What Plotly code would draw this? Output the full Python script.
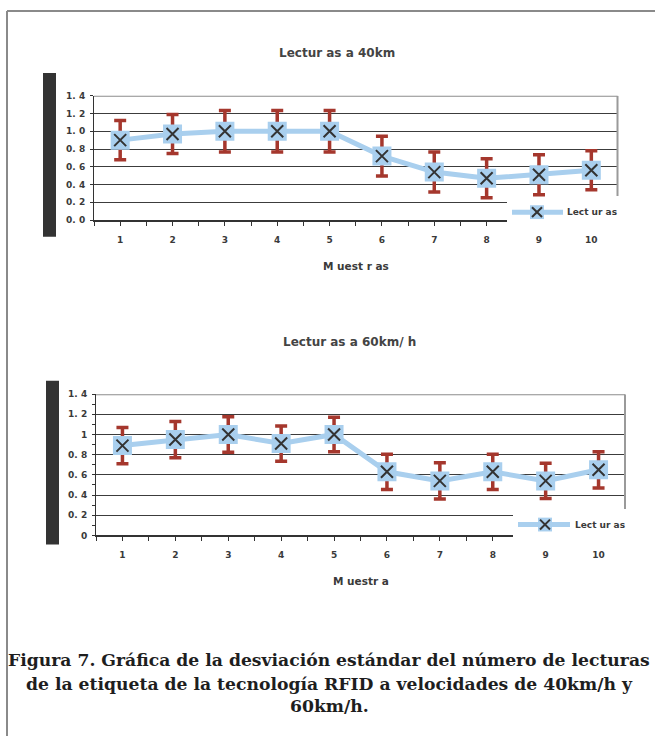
import plotly.graph_objects as go

# ---------------- data ----------------
muestras = [1, 2, 3, 4, 5, 6, 7, 8, 9, 10]

lect40_media = [0.90, 0.97, 1.00, 1.00, 1.00, 0.72, 0.54, 0.47, 0.51, 0.56]
lect40_desv = [0.22, 0.22, 0.235, 0.235, 0.235, 0.225, 0.225, 0.22, 0.225, 0.22]

lect60_media = [0.89, 0.95, 1.00, 0.91, 1.00, 0.63, 0.54, 0.63, 0.54, 0.65]
lect60_desv = [0.18, 0.18, 0.175, 0.175, 0.17, 0.175, 0.18, 0.175, 0.175, 0.18]

yticks = [0, 0.2, 0.4, 0.6, 0.8, 1.0, 1.2, 1.4]
ytext40 = ["0. 0", "0. 2", "0. 4", "0. 6", "0. 8", "1. 0", "1. 2", "1. 4"]
ytext60 = ["0", "0. 2", "0. 4", "0. 6", "0. 8", "1", "1. 2", "1. 4"]

serie_nombre = "Lect ur as"
titulo40 = "Lectur as a 40km"
titulo60 = "Lectur as a 60km/ h"
xtit40 = "M uest r as"
xtit60 = "M uestr a"
caption = [
    "Figura 7. Gráfica de la desviación estándar del número de lecturas",
    "de la etiqueta de la tecnología RFID a velocidades de 40km/h y",
    "60km/h.",
]

# ---------------- styling ----------------
W, H = 655, 736
px = lambda x: x / W
py = lambda y: 1 - y / H

LINE_BLUE = "#a9cfee"
ERR_RED = "#a5372d"
XDARK = "#333333"
GRID = "#3c3c3c"
TXT = "#3a3a3a"
SANS = "DejaVu Sans"

fig = go.Figure()


def add_series(xa, ya, media, desv, legend_name):
    fig.add_trace(go.Scatter(
        x=muestras, y=media, xaxis=xa, yaxis=ya, mode="lines+markers",
        name=legend_name, showlegend=False,
        line=dict(color=LINE_BLUE, width=5),
        marker=dict(symbol="square", size=19, color=LINE_BLUE, line=dict(width=0)),
        error_y=dict(type="data", array=desv, visible=True, color=ERR_RED,
                     thickness=3.5, width=6),
    ))
    fig.add_trace(go.Scatter(
        x=muestras, y=media, xaxis=xa, yaxis=ya, mode="markers",
        showlegend=False, hoverinfo="skip",
        marker=dict(symbol="x-thin-open", size=12, color=XDARK,
                    line=dict(color=XDARK, width=2)),
    ))


add_series("x", "y", lect40_media, lect40_desv, serie_nombre)
add_series("x2", "y2", lect60_media, lect60_desv, serie_nombre)

tickfont = dict(family=SANS, size=9, color=TXT, weight="bold")

xcommon = dict(range=[0.5, 10.5], tickmode="linear", tick0=1, dtick=1,
               ticks="outside", ticklen=4, tickcolor="#333", tickwidth=1,
               showline=True, linecolor="#333", linewidth=1.5,
               showgrid=False, zeroline=False, tickfont=tickfont,
               ticklabelstandoff=6,
               minor=dict(ticks="outside", ticklen=4, tickcolor="#333",
                          tick0=0.5, dtick=0.5, showgrid=False))

fig.update_layout(
    width=W, height=H, margin=dict(l=0, r=0, t=0, b=0),
    paper_bgcolor="white", plot_bgcolor="white", showlegend=False,
    xaxis=dict(domain=[px(94), px(617.5)], anchor="y", **xcommon),
    xaxis2=dict(domain=[px(96), px(625)], anchor="y2", **xcommon),
    yaxis=dict(domain=[py(218), py(92)], anchor="x", range=[0, 1.4],
               tickmode="array", tickvals=yticks, ticktext=ytext40,
               ticks="outside", ticklen=3, tickcolor="#333",
               showline=True, linecolor="#333", linewidth=1,
               showgrid=True, gridcolor=GRID, gridwidth=1, zeroline=False,
               tickfont=tickfont, ticklabelstandoff=3),
    yaxis2=dict(domain=[py(537.7), py(394.5)], anchor="x2", range=[0, 1.4],
                tickmode="array", tickvals=yticks, ticktext=ytext60,
                ticks="outside", ticklen=3, tickcolor="#333",
                showline=True, linecolor="#333", linewidth=1,
                showgrid=True, gridcolor=GRID, gridwidth=1, zeroline=False,
                tickfont=tickfont, ticklabelstandoff=3,
                minor=dict(ticks="outside", ticklen=3, tickcolor="#333",
                           dtick=0.1, showgrid=False)),
)

shapes = []
# page border (top + left)
shapes.append(dict(type="line", xref="paper", yref="paper", x0=px(7), x1=1.01,
                   y0=py(6), y1=py(6), line=dict(color="#8a8a8a", width=2)))
shapes.append(dict(type="line", xref="paper", yref="paper", x0=px(7), x1=px(7),
                   y0=py(6), y1=-0.01, line=dict(color="#8a8a8a", width=2)))
# dark side bars
shapes.append(dict(type="rect", xref="paper", yref="paper", x0=px(43), x1=px(56),
                   y0=py(235), y1=py(69), fillcolor="#333333", line=dict(width=0)))
shapes.append(dict(type="rect", xref="paper", yref="paper", x0=px(46), x1=px(59),
                   y0=py(547), y1=py(381), fillcolor="#333333", line=dict(width=0)))

for xa, ya, rb_bottom in [("x", "y", 0.27), ("x2", "y2", 0.25)]:
    shapes.append(dict(type="line", xref=f"{xa} domain", yref=ya, x0=0, x1=1,
                       y0=1.4, y1=1.4, line=dict(color="#8c8c8c", width=2),
                       layer="above"))
    shapes.append(dict(type="line", xref=f"{xa} domain", yref=ya, x0=1, x1=1,
                       y0=1.4, y1=rb_bottom, line=dict(color="#9a9a9a", width=2),
                       layer="above"))

# legend boxes (white) + samples
legends = [
    dict(box=(507, 620, 197, 229), ly=210, lx0=512, lx1=563, mx=537, tx=565),
    dict(box=(513, 628, 511, 548), ly=526.7, lx0=518, lx1=570, mx=545, tx=572.5),
]
for lg in legends:
    bx0, bx1, by0, by1 = lg["box"]
    shapes.append(dict(type="rect", xref="paper", yref="paper",
                       x0=px(bx0), x1=px(bx1), y0=py(by1), y1=py(by0),
                       fillcolor="white", line=dict(width=0), layer="above"))
    shapes.append(dict(type="line", xref="paper", yref="paper",
                       x0=px(lg["lx0"]), x1=px(lg["lx1"]), y0=py(lg["ly"]), y1=py(lg["ly"]),
                       line=dict(color=LINE_BLUE, width=5), layer="above"))
    s = 7
    shapes.append(dict(type="rect", xref="paper", yref="paper",
                       x0=px(lg["mx"] - s), x1=px(lg["mx"] + s),
                       y0=py(lg["ly"] + s), y1=py(lg["ly"] - s),
                       fillcolor=LINE_BLUE, line=dict(width=0), layer="above"))
    k = 5
    shapes.append(dict(type="line", xref="paper", yref="paper",
                       x0=px(lg["mx"] - k), x1=px(lg["mx"] + k),
                       y0=py(lg["ly"] - k), y1=py(lg["ly"] + k),
                       line=dict(color=XDARK, width=2), layer="above"))
    shapes.append(dict(type="line", xref="paper", yref="paper",
                       x0=px(lg["mx"] - k), x1=px(lg["mx"] + k),
                       y0=py(lg["ly"] + k), y1=py(lg["ly"] - k),
                       line=dict(color=XDARK, width=2), layer="above"))

fig.update_layout(shapes=shapes)

ann = []
bold9 = dict(family=SANS, size=9, color=TXT, weight="bold")
bold10 = dict(family=SANS, size=10.5, color=TXT, weight="bold")
bold12 = dict(family=SANS, size=12, color="#444", weight="bold")
for lg in legends:
    ann.append(dict(xref="paper", yref="paper", x=px(lg["tx"]), y=py(lg["ly"]),
                    text=serie_nombre, showarrow=False, xanchor="left", yanchor="middle",
                    font=bold9))
ann.append(dict(xref="paper", yref="paper", x=px(337), y=py(48.5), text=titulo40,
                showarrow=False, xanchor="center", yanchor="middle", font=bold12))
ann.append(dict(xref="paper", yref="paper", x=px(349), y=py(342), text=titulo60,
                showarrow=False, xanchor="center", yanchor="middle", font=bold12))
ann.append(dict(xref="paper", yref="paper", x=px(356), y=py(265), text=xtit40,
                showarrow=False, xanchor="center", yanchor="middle", font=bold10))
ann.append(dict(xref="paper", yref="paper", x=px(361), y=py(584), text=xtit60,
                showarrow=False, xanchor="center", yanchor="middle", font=bold10))
cap_font = dict(family="DejaVu Serif", size=17.2, color="#1e1e1e", weight="bold")
for line, yy in zip(caption, [664, 688, 711]):
    ann.append(dict(xref="paper", yref="paper", x=px(329), y=py(yy), text=line,
                    showarrow=False, xanchor="center", yanchor="middle", font=cap_font))
fig.update_layout(annotations=ann)

fig.write_html(
    "out.html",
    config={"displayModeBar": False},
    post_script="document.body.style.margin='0';document.body.style.overflow='hidden';",
)
